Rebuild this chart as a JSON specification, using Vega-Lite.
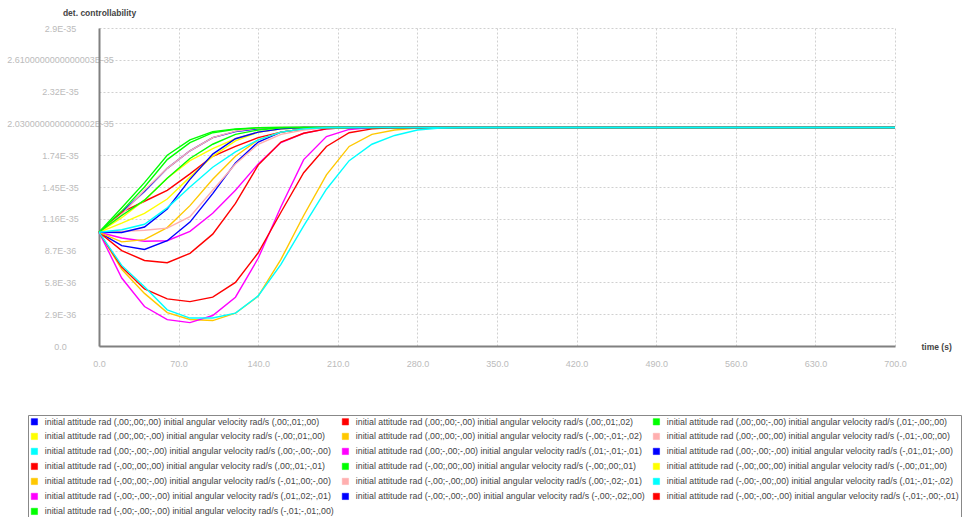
{
  "$schema": "https://vega.github.io/schema/vega-lite/v6.json",
  "width": 796,
  "height": 318,
  "autosize": "none",
  "padding": {"left": 99, "top": 28, "right": 70, "bottom": 171},
  "background": "white",
  "config": {"view": {"stroke": null}, "font": "Liberation Sans"},
  "datasets": {
    "series": [
      {"s": 1, "name": "initial attitude rad (,00;,00;,00) initial angular velocity rad/s (,00;,01;,00)"},
      {"s": 2, "name": "initial attitude rad (,00;,00;-,00) initial angular velocity rad/s (,00;,01;,02)"},
      {"s": 3, "name": "initial attitude rad (,00;,00;-,00) initial angular velocity rad/s (,01;-,00;,00)"},
      {"s": 4, "name": "initial attitude rad (,00;,00;-,00) initial angular velocity rad/s (-,00;,01;,00)"},
      {"s": 5, "name": "initial attitude rad (,00;,00;-,00) initial angular velocity rad/s (-,00;-,01;-,02)"},
      {"s": 6, "name": "initial attitude rad (,00;-,00;,00) initial angular velocity rad/s (-,01;-,00;,00)"},
      {"s": 7, "name": "initial attitude rad (,00;-,00;-,00) initial angular velocity rad/s (,00;-,00;-,00)"},
      {"s": 8, "name": "initial attitude rad (,00;-,00;-,00) initial angular velocity rad/s (,01;-,01;-,01)"},
      {"s": 9, "name": "initial attitude rad (,00;-,00;-,00) initial angular velocity rad/s (-,01;,01;-,00)"},
      {"s": 10, "name": "initial attitude rad (-,00;,00;,00) initial angular velocity rad/s (,00;,01;-,01)"},
      {"s": 11, "name": "initial attitude rad (-,00;,00;,00) initial angular velocity rad/s (-,00;,00;,01)"},
      {"s": 12, "name": "initial attitude rad (-,00;,00;,00) initial angular velocity rad/s (-,00;,01;,00)"},
      {"s": 13, "name": "initial attitude rad (-,00;,00;-,00) initial angular velocity rad/s (-,01;,00;-,00)"},
      {"s": 14, "name": "initial attitude rad (-,00;-,00;,00) initial angular velocity rad/s (,00;-,02;-,01)"},
      {"s": 15, "name": "initial attitude rad (-,00;-,00;,00) initial angular velocity rad/s (,01;-,01;-,02)"},
      {"s": 16, "name": "initial attitude rad (-,00;-,00;-,00) initial angular velocity rad/s (,01;,02;-,01)"},
      {"s": 17, "name": "initial attitude rad (-,00;-,00;-,00) initial angular velocity rad/s (-,00;-,02;,00)"},
      {"s": 18, "name": "initial attitude rad (-,00;-,00;-,00) initial angular velocity rad/s (-,01;-,00;-,01)"},
      {"s": 19, "name": "initial attitude rad (-,00;-,00;-,00) initial angular velocity rad/s (-,01;-,01;,00)"}
    ],
    "curves": [
      {"s":1,"t":0,"v":10.37e-36},{"s":1,"t":20,"v":12.2e-36},{"s":1,"t":40,"v":14.1e-36},{"s":1,"t":60,"v":16.2e-36},{"s":1,"t":80,"v":17.8e-36},{"s":1,"t":100,"v":19.0e-36},{"s":1,"t":120,"v":19.55e-36},{"s":1,"t":140,"v":19.8e-36},{"s":1,"t":160,"v":19.9e-36},{"s":1,"t":180,"v":19.93e-36},{"s":1,"t":700,"v":19.93e-36},
      {"s":2,"t":0,"v":10.37e-36},{"s":2,"t":20,"v":12.2e-36},{"s":2,"t":40,"v":13.2e-36},{"s":2,"t":60,"v":14.2e-36},{"s":2,"t":80,"v":15.7e-36},{"s":2,"t":100,"v":17.3e-36},{"s":2,"t":120,"v":18.2e-36},{"s":2,"t":140,"v":19.0e-36},{"s":2,"t":160,"v":19.5e-36},{"s":2,"t":180,"v":19.8e-36},{"s":2,"t":200,"v":19.9e-36},{"s":2,"t":220,"v":19.93e-36},{"s":2,"t":700,"v":19.93e-36},
      {"s":3,"t":0,"v":10.37e-36},{"s":3,"t":20,"v":12.6e-36},{"s":3,"t":40,"v":14.9e-36},{"s":3,"t":60,"v":17.4e-36},{"s":3,"t":80,"v":18.8e-36},{"s":3,"t":100,"v":19.55e-36},{"s":3,"t":120,"v":19.8e-36},{"s":3,"t":140,"v":19.9e-36},{"s":3,"t":160,"v":19.93e-36},{"s":3,"t":700,"v":19.93e-36},
      {"s":4,"t":0,"v":10.37e-36},{"s":4,"t":20,"v":11.7e-36},{"s":4,"t":40,"v":13.3e-36},{"s":4,"t":60,"v":15.3e-36},{"s":4,"t":80,"v":16.9e-36},{"s":4,"t":100,"v":18.0e-36},{"s":4,"t":120,"v":18.9e-36},{"s":4,"t":140,"v":19.5e-36},{"s":4,"t":160,"v":19.8e-36},{"s":4,"t":180,"v":19.9e-36},{"s":4,"t":200,"v":19.93e-36},{"s":4,"t":700,"v":19.93e-36},
      {"s":5,"t":0,"v":10.37e-36},{"s":5,"t":20,"v":7.0e-36},{"s":5,"t":40,"v":4.8e-36},{"s":5,"t":60,"v":3.05e-36},{"s":5,"t":80,"v":2.42e-36},{"s":5,"t":100,"v":2.32e-36},{"s":5,"t":120,"v":2.99e-36},{"s":5,"t":140,"v":4.55e-36},{"s":5,"t":160,"v":7.9e-36},{"s":5,"t":180,"v":11.9e-36},{"s":5,"t":200,"v":15.6e-36},{"s":5,"t":220,"v":18.2e-36},{"s":5,"t":240,"v":19.3e-36},{"s":5,"t":260,"v":19.7e-36},{"s":5,"t":280,"v":19.87e-36},{"s":5,"t":300,"v":19.93e-36},{"s":5,"t":700,"v":19.93e-36},
      {"s":6,"t":0,"v":10.37e-36},{"s":6,"t":20,"v":12.0e-36},{"s":6,"t":40,"v":14.2e-36},{"s":6,"t":60,"v":16.2e-36},{"s":6,"t":80,"v":17.8e-36},{"s":6,"t":100,"v":19.0e-36},{"s":6,"t":120,"v":19.6e-36},{"s":6,"t":140,"v":19.87e-36},{"s":6,"t":160,"v":19.93e-36},{"s":6,"t":700,"v":19.93e-36},
      {"s":8,"t":0,"v":10.37e-36},{"s":8,"t":20,"v":9.85e-36},{"s":8,"t":40,"v":9.55e-36},{"s":8,"t":60,"v":9.6e-36},{"s":8,"t":80,"v":10.45e-36},{"s":8,"t":100,"v":12.1e-36},{"s":8,"t":120,"v":14.2e-36},{"s":8,"t":140,"v":16.6e-36},{"s":8,"t":160,"v":18.55e-36},{"s":8,"t":180,"v":19.4e-36},{"s":8,"t":200,"v":19.8e-36},{"s":8,"t":220,"v":19.93e-36},{"s":8,"t":700,"v":19.93e-36},
      {"s":9,"t":0,"v":10.37e-36},{"s":9,"t":20,"v":9.15e-36},{"s":9,"t":40,"v":8.8e-36},{"s":9,"t":60,"v":9.6e-36},{"s":9,"t":80,"v":11.3e-36},{"s":9,"t":100,"v":13.9e-36},{"s":9,"t":120,"v":16.7e-36},{"s":9,"t":140,"v":18.6e-36},{"s":9,"t":160,"v":19.5e-36},{"s":9,"t":180,"v":19.8e-36},{"s":9,"t":200,"v":19.93e-36},{"s":9,"t":700,"v":19.93e-36},
      {"s":10,"t":0,"v":10.37e-36},{"s":10,"t":20,"v":8.7e-36},{"s":10,"t":40,"v":7.8e-36},{"s":10,"t":60,"v":7.6e-36},{"s":10,"t":80,"v":8.45e-36},{"s":10,"t":100,"v":10.2e-36},{"s":10,"t":120,"v":13.0e-36},{"s":10,"t":140,"v":16.5e-36},{"s":10,"t":160,"v":18.6e-36},{"s":10,"t":180,"v":19.4e-36},{"s":10,"t":200,"v":19.8e-36},{"s":10,"t":220,"v":19.93e-36},{"s":10,"t":700,"v":19.93e-36},
      {"s":11,"t":0,"v":10.37e-36},{"s":11,"t":20,"v":12.3e-36},{"s":11,"t":40,"v":14.5e-36},{"s":11,"t":60,"v":17.0e-36},{"s":11,"t":80,"v":18.55e-36},{"s":11,"t":100,"v":19.45e-36},{"s":11,"t":120,"v":19.75e-36},{"s":11,"t":140,"v":19.9e-36},{"s":11,"t":160,"v":19.93e-36},{"s":11,"t":700,"v":19.93e-36},
      {"s":12,"t":0,"v":10.37e-36},{"s":12,"t":20,"v":11.2e-36},{"s":12,"t":40,"v":12.1e-36},{"s":12,"t":60,"v":13.4e-36},{"s":12,"t":80,"v":15.4e-36},{"s":12,"t":100,"v":17.3e-36},{"s":12,"t":120,"v":18.7e-36},{"s":12,"t":140,"v":19.5e-36},{"s":12,"t":160,"v":19.8e-36},{"s":12,"t":180,"v":19.93e-36},{"s":12,"t":700,"v":19.93e-36},
      {"s":13,"t":0,"v":10.37e-36},{"s":13,"t":20,"v":9.5e-36},{"s":13,"t":40,"v":9.7e-36},{"s":13,"t":60,"v":10.8e-36},{"s":13,"t":80,"v":12.8e-36},{"s":13,"t":100,"v":15.2e-36},{"s":13,"t":120,"v":17.3e-36},{"s":13,"t":140,"v":18.8e-36},{"s":13,"t":160,"v":19.5e-36},{"s":13,"t":180,"v":19.8e-36},{"s":13,"t":200,"v":19.93e-36},{"s":13,"t":700,"v":19.93e-36},
      {"s":14,"t":0,"v":10.37e-36},{"s":14,"t":20,"v":10.45e-36},{"s":14,"t":40,"v":10.55e-36},{"s":14,"t":60,"v":10.75e-36},{"s":14,"t":80,"v":11.8e-36},{"s":14,"t":100,"v":14.2e-36},{"s":14,"t":120,"v":16.6e-36},{"s":14,"t":140,"v":18.4e-36},{"s":14,"t":160,"v":19.3e-36},{"s":14,"t":180,"v":19.7e-36},{"s":14,"t":200,"v":19.9e-36},{"s":14,"t":220,"v":19.93e-36},{"s":14,"t":700,"v":19.93e-36},
      {"s":16,"t":0,"v":10.37e-36},{"s":16,"t":20,"v":6.2e-36},{"s":16,"t":40,"v":3.6e-36},{"s":16,"t":60,"v":2.4e-36},{"s":16,"t":80,"v":2.13e-36},{"s":16,"t":100,"v":2.78e-36},{"s":16,"t":120,"v":4.45e-36},{"s":16,"t":140,"v":8.0e-36},{"s":16,"t":160,"v":12.7e-36},{"s":16,"t":180,"v":17.0e-36},{"s":16,"t":200,"v":19.1e-36},{"s":16,"t":220,"v":19.75e-36},{"s":16,"t":240,"v":19.93e-36},{"s":16,"t":700,"v":19.93e-36},
      {"s":17,"t":0,"v":10.37e-36},{"s":17,"t":20,"v":10.35e-36},{"s":17,"t":40,"v":10.85e-36},{"s":17,"t":60,"v":12.5e-36},{"s":17,"t":80,"v":15.2e-36},{"s":17,"t":100,"v":17.5e-36},{"s":17,"t":120,"v":18.9e-36},{"s":17,"t":140,"v":19.5e-36},{"s":17,"t":160,"v":19.8e-36},{"s":17,"t":180,"v":19.93e-36},{"s":17,"t":700,"v":19.93e-36},
      {"s":18,"t":0,"v":10.37e-36},{"s":18,"t":20,"v":7.2e-36},{"s":18,"t":40,"v":5.2e-36},{"s":18,"t":60,"v":4.3e-36},{"s":18,"t":80,"v":4.05e-36},{"s":18,"t":100,"v":4.45e-36},{"s":18,"t":120,"v":5.8e-36},{"s":18,"t":140,"v":8.5e-36},{"s":18,"t":160,"v":12.2e-36},{"s":18,"t":180,"v":15.8e-36},{"s":18,"t":200,"v":18.2e-36},{"s":18,"t":220,"v":19.45e-36},{"s":18,"t":240,"v":19.8e-36},{"s":18,"t":260,"v":19.93e-36},{"s":18,"t":700,"v":19.93e-36},
      {"s":19,"t":0,"v":10.37e-36},{"s":19,"t":20,"v":11.9e-36},{"s":19,"t":40,"v":13.3e-36},{"s":19,"t":60,"v":15.3e-36},{"s":19,"t":80,"v":17.1e-36},{"s":19,"t":100,"v":18.4e-36},{"s":19,"t":120,"v":19.3e-36},{"s":19,"t":140,"v":19.7e-36},{"s":19,"t":160,"v":19.9e-36},{"s":19,"t":180,"v":19.93e-36},{"s":19,"t":700,"v":19.93e-36},
      {"s":15,"t":0,"v":10.37e-36},{"s":15,"t":20,"v":10.6e-36},{"s":15,"t":40,"v":11.1e-36},{"s":15,"t":60,"v":12.6e-36},{"s":15,"t":80,"v":14.5e-36},{"s":15,"t":100,"v":16.3e-36},{"s":15,"t":120,"v":17.7e-36},{"s":15,"t":140,"v":18.8e-36},{"s":15,"t":160,"v":19.5e-36},{"s":15,"t":180,"v":19.8e-36},{"s":15,"t":200,"v":19.93e-36},{"s":15,"t":700,"v":19.93e-36},
      {"s":7,"t":0,"v":10.37e-36},{"s":7,"t":20,"v":7.35e-36},{"s":7,"t":40,"v":5.4e-36},{"s":7,"t":60,"v":3.3e-36},{"s":7,"t":80,"v":2.55e-36},{"s":7,"t":100,"v":2.55e-36},{"s":7,"t":120,"v":3.0e-36},{"s":7,"t":140,"v":4.57e-36},{"s":7,"t":160,"v":7.45e-36},{"s":7,"t":180,"v":10.95e-36},{"s":7,"t":200,"v":14.3e-36},{"s":7,"t":220,"v":16.9e-36},{"s":7,"t":240,"v":18.4e-36},{"s":7,"t":260,"v":19.2e-36},{"s":7,"t":280,"v":19.7e-36},{"s":7,"t":300,"v":19.87e-36},{"s":7,"t":320,"v":19.93e-36},{"s":7,"t":700,"v":19.93e-36}
    ]
  },
  "data": {"name": "curves"},
  "transform": [
    {"lookup": "s", "from": {"data": {"name": "series"}, "key": "s", "fields": ["name"]}}
  ],
  "mark": {"type": "line", "strokeWidth": 1.4, "interpolate": "linear"},
  "encoding": {
    "x": {
      "field": "t",
      "type": "quantitative",
      "scale": {"domain": [0, 700], "nice": false, "zero": false},
      "axis": {
        "title": "time (s)",
        "values": [0, 70, 140, 210, 280, 350, 420, 490, 560, 630, 700],
        "format": ".1f",
        "grid": true,
        "gridColor": "#d0d0d0",
        "gridDash": [2, 2],
        "gridWidth": 1,
        "domainColor": "#808080",
        "domainWidth": 2,
        "ticks": false,
        "tickSize": 0,
        "labelPadding": 13,
        "labelColor": "#bbbbbb",
        "labelFontSize": 9,
        "labelFlush": false,
        "labelOverlap": false,
        "titleX": 822,
        "titleY": 0,
        "titleAlign": "left",
        "titleBaseline": "middle",
        "titleFontSize": 8.5,
        "titleFontWeight": "bold",
        "titleColor": "#444444"
      }
    },
    "y": {
      "field": "v",
      "type": "quantitative",
      "scale": {"domain": [0, 2.9e-35], "nice": false, "zero": true},
      "axis": {
        "title": "det. controllability",
        "values": [0, 2.9e-36, 5.8e-36, 8.7e-36, 1.16e-35, 1.45e-35, 1.74e-35, 2.03e-35, 2.32e-35, 2.61e-35, 2.9e-35],
        "labelExpr": "['0.0','2.9E-36','5.8E-36','8.7E-36','1.16E-35','1.45E-35','1.74E-35','2.0300000000000002E-35','2.32E-35','2.6100000000000003E-35','2.9E-35'][round(datum.value / 2.9e-36)]",
        "grid": true,
        "gridColor": "#d0d0d0",
        "gridDash": [2, 2],
        "gridWidth": 1,
        "domainColor": "#808080",
        "domainWidth": 2,
        "ticks": false,
        "tickSize": 0,
        "labelAlign": "center",
        "labelBaseline": "middle",
        "labelPadding": 39,
        "labelColor": "#bbbbbb",
        "labelFontSize": 9,
        "labelFlush": false,
        "labelOverlap": false,
        "labelBound": false,
        "titleAngle": 0,
        "titleX": 0,
        "titleY": -16,
        "titleAlign": "center",
        "titleBaseline": "middle",
        "titleFontSize": 8.5,
        "titleFontWeight": "bold",
        "titleColor": "#444444"
      }
    },
    "color": {
      "field": "name",
      "type": "nominal",
      "sort": {"field": "s", "op": "min", "order": "ascending"},
      "scale": {
        "range": ["#0000ff", "#ff0000", "#00ff00", "#ffff00", "#ffc800", "#ffafaf", "#00ffff", "#ff00ff", "#0000ff", "#ff0000", "#00ff00", "#ffff00", "#ffc800", "#ffafaf", "#00ffff", "#ff00ff", "#0000ff", "#ff0000", "#00ff00"]
      },
      "legend": {
        "title": null,
        "orient": "none",
        "direction": "horizontal",
        "legendX": -71,
        "legendY": 387,
        "columns": 3,
        "columnPadding": 7,
        "rowPadding": 5,
        "padding": 2,
        "strokeColor": "#888888",
        "symbolType": "square",
        "symbolSize": 40,
        "symbolStrokeWidth": 0.5,
        "labelFontSize": 8.8,
        "labelColor": "#444444",
        "labelLimit": 400,
        "labelOffset": 6,
        "encode": {
          "symbols": {
            "update": {
              "fill": {"scale": "color", "field": "value"},
              "stroke": {"value": "#666666"},
              "opacity": {"value": 1}
            }
          }
        }
      }
    }
  }
}
